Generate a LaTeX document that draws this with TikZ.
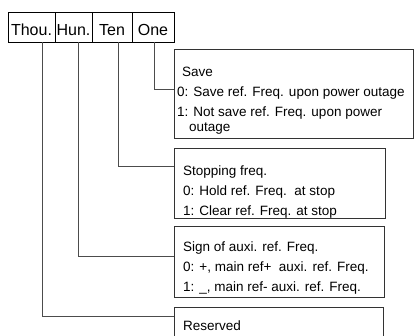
\documentclass[tikz,border=0pt]{standalone}
\usepackage{fontspec}
\setmainfont{Liberation Sans}
\usetikzlibrary{positioning}

\begin{document}
\begin{tikzpicture}[x=1pt,y=-1pt,
  digit/.style={draw,line width=0.8pt,minimum height=30pt,inner sep=0pt,text height=18pt,text depth=0pt,font=\fontsize{16}{18}\selectfont},
  infobox/.style={draw=black!80,line width=1.1pt,anchor=north west,inner sep=0pt},
  infotext/.style={anchor=north west,inner sep=0pt,align=left,font=\fontsize{13.5}{20}\selectfont},
  link/.style={draw=black!70,line width=0.9pt}
]
\useasboundingbox (0,0) rectangle (414,336);
\clip (0,0) rectangle (414,336);

% function code digits
\node[digit,minimum width=47pt] (thou) at (31.5,27) {Thou.};
\node[digit,minimum width=37pt] (hun) at (73.5,27) {Hun.};
\node[digit,minimum width=40pt] (ten) at (112,27) {Ten};
\node[digit,minimum width=42pt] (one) at (153,27) {One};

% setting boxes
\node[infobox,minimum width=239pt,minimum height=89pt] (savebox) at (174,49) {};
\node[infobox,minimum width=211pt,minimum height=70pt] (stopbox) at (174,148) {};
\node[infobox,minimum width=210pt,minimum height=71pt] (signbox) at (174,226) {};
\node[infobox,minimum width=209pt,minimum height=60pt] (resbox) at (174,307) {};

\node[infotext,below right=18pt and 3pt of savebox.north west] (savetext)
  {\hspace*{5pt}Save\\
   0: Save ref. Freq. upon power outage\\
   1: Not save ref. Freq. upon power\\[-5pt]
   \hspace*{12pt}outage};
\node[infotext,below right=18pt and 9pt of stopbox.north west] (stoptext)
  {Stopping freq.\\
   0: Hold ref. Freq.\ \ at stop\\
   1: Clear ref. Freq. at stop};
\node[infotext,below right=16pt and 9pt of signbox.north west] (signtext)
  {Sign of auxi. ref. Freq.\\
   0: +, main ref+\ \ auxi. ref. Freq.\\
   1: \_, main ref- auxi. ref. Freq.};
\node[infotext,below right=14pt and 9pt of resbox.north west] (restext) {Reserved};

% leader lines
\draw[link] ([xshift=1pt]one.south) |- ([yshift=4.5pt]savebox.west);
\draw[link] ([xshift=6pt]ten.south) |- ([yshift=17pt]stopbox.west);
\draw[link] ([xshift=4.5pt]hun.south) |- ([yshift=5.5pt]signbox.west);
\draw[link] ([xshift=10.5pt]thou.south) |- ([yshift=-9pt]resbox.north west);
\end{tikzpicture}
\end{document}
